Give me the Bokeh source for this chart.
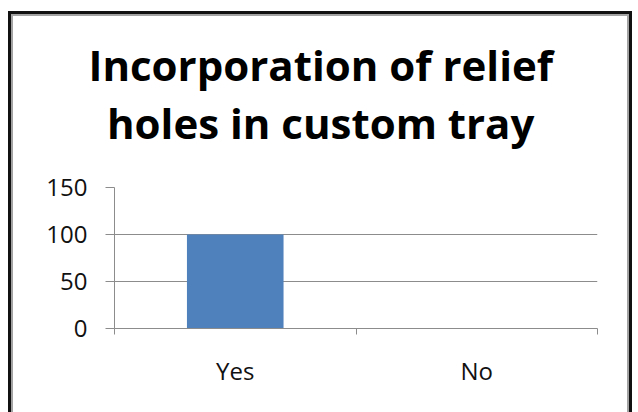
from bokeh.plotting import figure
from bokeh.models import Range1d, FixedTicker, ColumnDataSource, Title
from bokeh.embed import file_html
from bokeh.resources import INLINE

categories = ["Yes", "No"]
values = [100, 0]
y_ticks = [0, 50, 100, 150]
title_lines = ["Incorporation of relief", "holes in custom tray"]

positions = [i + 0.5 for i in range(len(categories))]
src = ColumnDataSource(dict(x=positions, top=values, cat=categories))

p = figure(width=614, height=396, output_backend="svg", toolbar_location=None,
           x_range=Range1d(0, len(categories)), y_range=Range1d(0, 150),
           min_border_left=101, min_border_right=30, min_border_top=171, min_border_bottom=84,
           background_fill_color="white", border_fill_color="white")
p.styles = {"margin-left": "13px", "margin-top": "16px",
            "box-shadow": "0 0 0 2px #a3a3a3, 0 0 0 5px #111111"}
p.outline_line_color = None

p.vbar(x="x", top="top", width=0.4, bottom=0, source=src,
       fill_color="#4F81BD", line_color=None)

grid_col = "#8c8c8c"
xa = p.xaxis[0]
xa.ticker = FixedTicker(ticks=positions, minor_ticks=list(range(len(categories) + 1)))
xa.major_label_overrides = {pos: c for pos, c in zip(positions, categories)}
xa.major_tick_out = 0
xa.major_tick_in = 0
xa.minor_tick_out = 6
xa.minor_tick_in = 0
xa.minor_tick_line_color = grid_col
xa.axis_line_color = grid_col
xa.major_label_text_font = "Open Sans"
xa.major_label_text_font_size = "24px"
xa.major_label_text_color = "#111111"
xa.major_label_standoff = 19

ya = p.yaxis[0]
ya.ticker = FixedTicker(ticks=y_ticks)
ya.major_tick_out = 9
ya.major_tick_in = 0
ya.minor_tick_out = 0
ya.minor_tick_in = 0
ya.major_tick_line_color = grid_col
ya.axis_line_color = grid_col
ya.major_label_text_font = "Open Sans"
ya.major_label_text_font_size = "24px"
ya.major_label_text_color = "#111111"
ya.major_label_standoff = 18

p.xgrid.visible = False
p.ygrid.ticker = FixedTicker(ticks=y_ticks)
p.ygrid.grid_line_color = grid_col

p.title = None
title_style = dict(align="left", text_font="Open Sans", text_font_style="bold",
                   text_font_size="42px", text_color="#000000")
# second line is nearest the frame, first line stacked above it
p.add_layout(Title(text=title_lines[1], offset=-7.5, standoff=74, **title_style), "above")
p.add_layout(Title(text=title_lines[0], offset=-26, standoff=-76, **title_style), "above")

open("out.html", "w").write(file_html(p, INLINE))
